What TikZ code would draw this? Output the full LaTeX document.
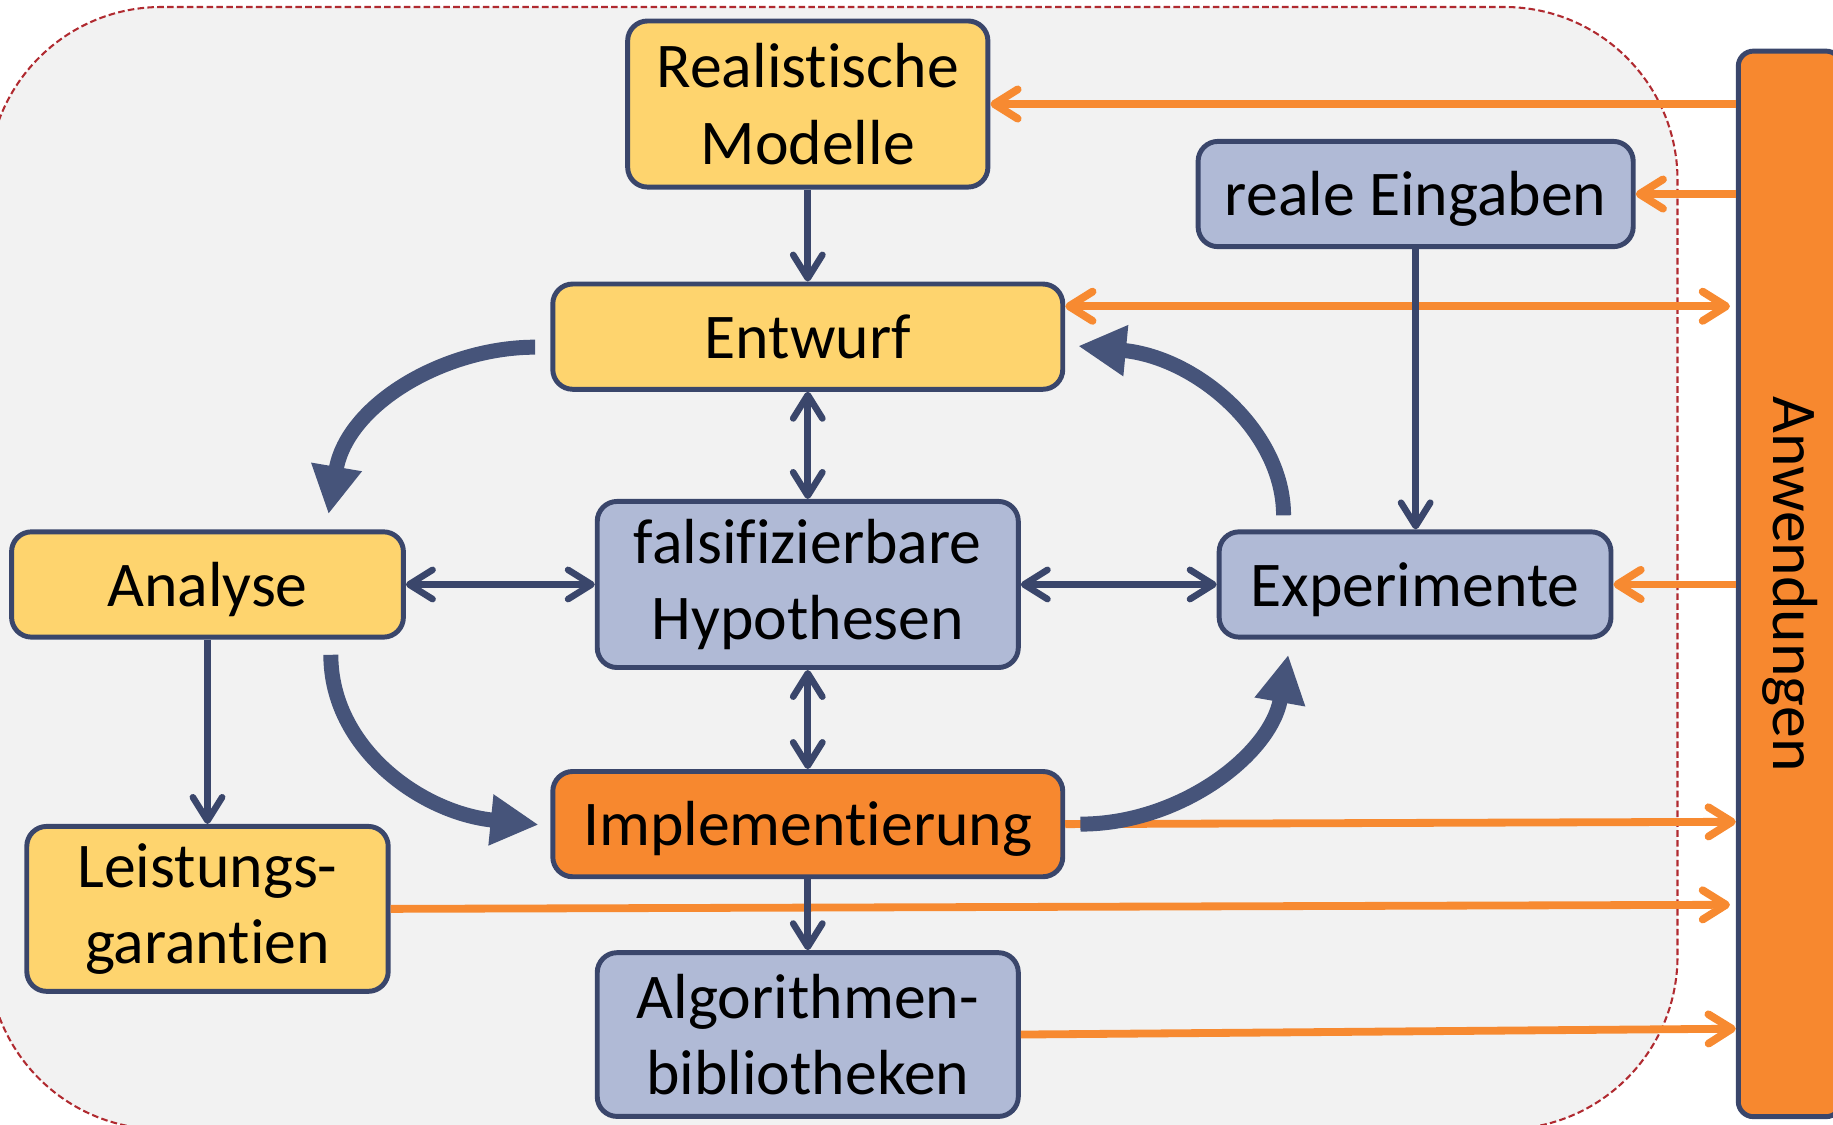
\documentclass[tikz,border=0pt]{standalone}
\usepackage{fontspec}
\setmainfont{Carlito}[Ligatures=NoCommon]
\usetikzlibrary{arrows.meta,calc}

\definecolor{navy}{HTML}{3A466B}
\definecolor{arcnavy}{HTML}{46547A}
\definecolor{boxyellow}{HTML}{FED46E}
\definecolor{boxblue}{HTML}{B0BAD6}
\definecolor{boxorange}{HTML}{F7882F}
\definecolor{lineorange}{HTML}{F78A31}
\definecolor{panelgray}{HTML}{F2F2F2}
\definecolor{paneledge}{HTML}{B02A30}

\begin{document}
\begin{tikzpicture}[x=0.01cm, y=-0.01cm,
  >={Straight Barb[length=0.2cm,width=0.25cm,round]},
  boxbase/.style={draw=navy, line width=1.2pt, rounded corners=0.17cm,
    inner sep=0pt, align=center, text=black,
    font=\fontsize{15.5}{18.6}\selectfont},
  oneline/.style={text height=10.6pt, text depth=0pt},
  yellowbox/.style={boxbase, fill=boxyellow},
  bluebox/.style={boxbase, fill=boxblue},
  orangebox/.style={boxbase, fill=boxorange},
  navyarrow/.style={draw=navy, line width=1.6pt},
  orangearrow/.style={draw=lineorange, line width=1.9pt},
  bigarrow/.style={draw=arcnavy, line width=0.128cm,
    -{Triangle[length=0.41cm,width=0.41cm]}},
]
\useasboundingbox (0,0) rectangle (1568,962);
\clip (0,0) rectangle (1568,962);

% grey working area
\draw[fill=panelgray, draw=paneledge, line width=0.5pt,
      dash pattern=on 1.6pt off 0.8pt, rounded corners=1.48cm]
  (-10,6) rectangle (1435,966);

% boxes
\node[yellowbox, minimum width=3.08cm, minimum height=1.42cm] (real) at (691,89) {Realistische\\Modelle};
\node[bluebox, oneline, minimum width=3.72cm, minimum height=0.90cm] (eing) at (1211,166) {reale Eingaben};
\node[yellowbox, oneline, minimum width=4.36cm, minimum height=0.90cm] (entw) at (691,288) {Entwurf};
\node[yellowbox, oneline, minimum width=3.35cm, minimum height=0.90cm] (anal) at (177.5,500) {Analyse};
\node[bluebox, minimum width=3.60cm, minimum height=1.42cm] (hyp) at (691,500) {falsifizierbare\\Hypothesen};
\node[bluebox, oneline, minimum width=3.35cm, minimum height=0.90cm] (exp) at (1210.5,500) {Experimente};
\node[orangebox, oneline, minimum width=4.36cm, minimum height=0.90cm] (impl) at (691,705) {Implementierung};
\node[yellowbox, minimum width=3.09cm, minimum height=1.41cm] (leist) at (177.5,777.5) {Leistungs-\\garantien};
\node[bluebox, minimum width=3.60cm, minimum height=1.40cm] (algo) at (691,885) {Algorithmen-\\bibliotheken};
\node[orangebox, rounded corners=0.13cm, minimum width=0.88cm, minimum height=9.11cm] (anw) at (1531,499.5) {\rotatebox{-90}{Anwendungen}};

% links to and from the applications bar
\draw[orangearrow, ->] (anw.west |- real.east) -- (real.east);
\draw[orangearrow, ->] (anw.west |- eing.east) -- (eing.east);
\coordinate (entwr) at ($(entw.east)+(0,-26)$);
\draw[orangearrow, <->] (entwr) -- ($(entwr -| anw.west)+(-5,0)$);
\draw[orangearrow, ->] (anw.west |- exp.east) -- (exp.east);
\draw[orangearrow, ->] (impl.east) -- ($(anw.west)+(0,203.5)$);
\draw[orangearrow, ->] (leist.east) -- ($(anw.west)+(-5,274.5)$);
\draw[orangearrow, ->] (algo.east) -- ($(anw.west)+(0,380.5)$);

% dependencies between the boxes
\draw[navyarrow, ->] (real) -- (entw);
\draw[navyarrow, ->] (eing.south) -- (eing.south |- exp.north);
\draw[navyarrow, <->] (entw) -- (hyp);
\draw[navyarrow, <->] (hyp) -- (impl);
\draw[navyarrow, <->] (anal) -- (hyp);
\draw[navyarrow, <->] (hyp) -- (exp);
\draw[navyarrow, ->] (anal) -- (leist);
\draw[navyarrow, ->] (impl) -- (algo);

% the development cycle
\draw[bigarrow] ($(entw.west)+(-13,9)$) .. controls (380,297) and (297,346) .. ($(anal.north)+(103.5,-13)$);
\draw[bigarrow] ($(anal.south)+(105.5,13)$) .. controls (283,640) and (360.5,695.5) .. ($(impl.west)+(-10,0.5)$);
\draw[bigarrow] ($(impl.east)+(13,0)$) .. controls (1010,705) and (1087,645) .. ($(exp.south)+(-108.5,13)$);
\draw[bigarrow] ($(exp.north)+(-112.5,-12)$) .. controls (1098,370) and (1025,306) .. ($(entw.east)+(11,8)$);
\end{tikzpicture}
\end{document}
